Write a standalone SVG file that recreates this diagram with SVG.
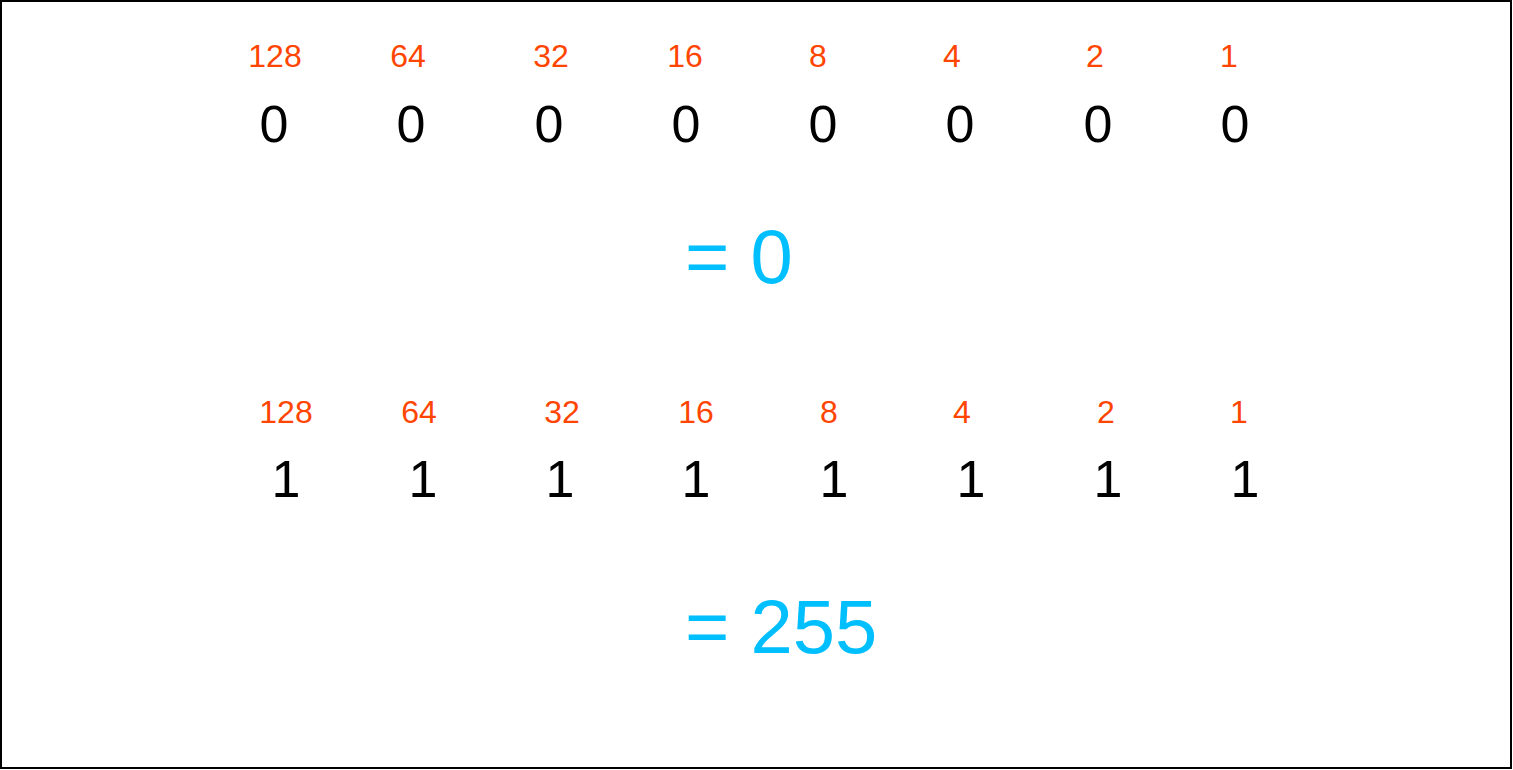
<svg xmlns="http://www.w3.org/2000/svg" width="1513" height="770" viewBox="0 0 1513 770">
<style>
.w{font-family:"Liberation Sans",Arial,sans-serif;font-size:32px;fill:#FF4500;text-anchor:middle}
.b{font-family:"Liberation Sans",Arial,sans-serif;font-size:52px;fill:#000;text-anchor:middle}
.r{font-family:"Liberation Sans",Arial,sans-serif;font-size:76px;fill:#00BFFF}
</style>
<rect x="1" y="1" width="1510" height="767" fill="#fff" stroke="#000" stroke-width="2"/>
<g id="weights1">
<text class="w" x="275" y="67">128</text><text class="w" x="408" y="67">64</text><text class="w" x="551" y="67">32</text><text class="w" x="685" y="67">16</text><text class="w" x="818" y="67">8</text><text class="w" x="952" y="67">4</text><text class="w" x="1095" y="67">2</text><text class="w" x="1229" y="67">1</text>
</g>
<g id="bits1">
<text class="b" x="274" y="142">0</text><text class="b" x="411" y="142">0</text><text class="b" x="549" y="142">0</text><text class="b" x="686" y="142">0</text><text class="b" x="823" y="142">0</text><text class="b" x="960" y="142">0</text><text class="b" x="1098" y="142">0</text><text class="b" x="1235" y="142">0</text>
</g>
<g id="result1"><text class="r" x="685" y="283">= 0</text></g>
<g id="weights2">
<text class="w" x="286" y="423">128</text><text class="w" x="419" y="423">64</text><text class="w" x="562" y="423">32</text><text class="w" x="696" y="423">16</text><text class="w" x="829" y="423">8</text><text class="w" x="962" y="423">4</text><text class="w" x="1106" y="423">2</text><text class="w" x="1239" y="423">1</text>
</g>
<g id="bits2">
<text class="b" x="286" y="497">1</text><text class="b" x="423" y="497">1</text><text class="b" x="560" y="497">1</text><text class="b" x="696" y="497">1</text><text class="b" x="834" y="497">1</text><text class="b" x="971" y="497">1</text><text class="b" x="1108" y="497">1</text><text class="b" x="1245" y="497">1</text>
</g>
<g id="result2"><text class="r" x="685" y="653">= 255</text></g>
<g id="connectors"></g>
</svg>
